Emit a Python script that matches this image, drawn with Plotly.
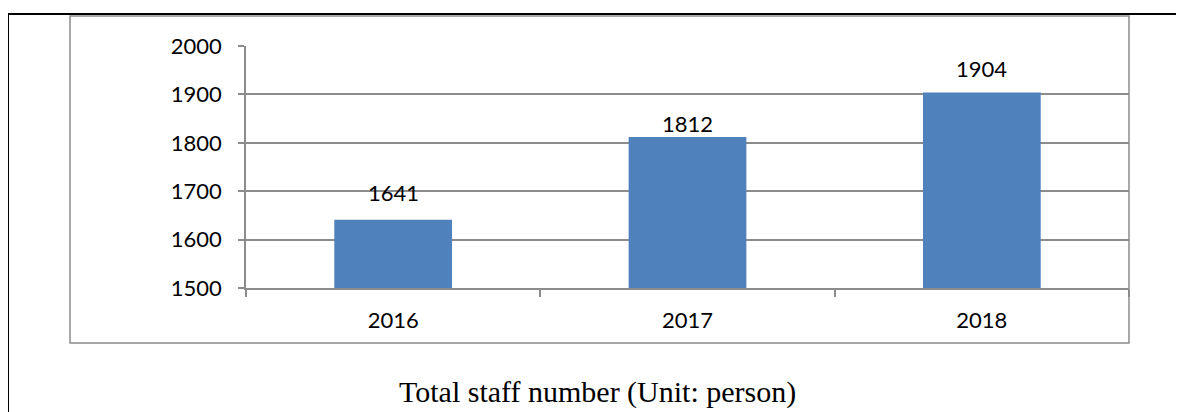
import plotly.graph_objects as go

# ---- data ----
years = ["2016", "2017", "2018"]
staff = [1641, 1812, 1904]
y_ticks = [1500, 1600, 1700, 1800, 1900, 2000]
title_text = "Total staff number (Unit: person)"

# ---- style ----
OFF = 8  # page body margin in the browser
W, H = 1184 - OFF, 412 - OFF
bar_color = "#4f81bd"
grid_color = "#8c8c8c"
tick_font = dict(family="Lato, Carlito, Calibri, sans-serif", size=22, color="#000000")
label_shift = [27, 13, 24]

fig = go.Figure()
fig.add_trace(go.Bar(x=years, y=staff, marker=dict(color=bar_color, line=dict(width=0)),
                     width=0.4, hoverinfo="x+y"))

for i, v in enumerate(staff):
    fig.add_annotation(x=i, y=v, text=str(v), showarrow=False, xref="x", yref="y",
                       yanchor="middle", yshift=label_shift[i], font=tick_font)

# plot area in reference-picture pixels, converted to figure pixels
L, R, T, B = 246 - OFF, 1129 - OFF, 46 - OFF, 288 - OFF
fig.update_layout(
    width=W, height=H,
    margin=dict(l=L, r=W - R, t=T, b=H - B, pad=0, autoexpand=False),
    paper_bgcolor="white", plot_bgcolor="white",
    showlegend=False,
)
fig.update_yaxes(range=[1500, 2000], tickvals=y_ticks, showgrid=True, gridcolor=grid_color,
                 gridwidth=1.5, showline=True, linecolor=grid_color, linewidth=1.5,
                 ticks="outside", ticklen=6, tickcolor=grid_color, tickwidth=1.5,
                 tickfont=tick_font, zeroline=False, fixedrange=True, automargin=False,
                 ticklabelstandoff=12)
fig.update_xaxes(type="category", range=[-0.5, 2.5], showgrid=False, showline=True,
                 linecolor=grid_color, linewidth=1.5, ticks="outside", ticklen=7,
                 tickcolor=grid_color, tickwidth=1.5, tickson="boundaries",
                 tickfont=tick_font, tickangle=0, fixedrange=True, automargin=False,
                 ticklabelstandoff=12)


def px(xr):
    xp = xr - OFF
    return (xp - L) / (R - L)


def py(yr):
    yp = yr - OFF
    return (H - yp - (H - B)) / (B - T)


shapes = []
# outer black frame (top and left)
shapes.append(dict(type="line", xref="paper", yref="paper", x0=px(8), x1=px(1200),
                   y0=py(14), y1=py(430), line=dict(color="rgba(0,0,0,0)", width=0)))
shapes[0].update(y1=py(14))
shapes[0]["line"] = dict(color="black", width=2)
shapes.append(dict(type="line", xref="paper", yref="paper", x0=px(8), x1=px(8),
                   y0=py(14), y1=py(430), line=dict(color="black", width=2)))
# chart box
shapes.append(dict(type="rect", xref="paper", yref="paper", x0=px(70), x1=px(1129),
                   y0=py(343), y1=py(16), line=dict(color=grid_color, width=1.5),
                   layer="below"))
fig.update_layout(shapes=shapes)

fig.add_annotation(text=title_text, xref="paper", yref="paper", x=px(597), y=py(392),
                   xanchor="center", yanchor="middle", showarrow=False,
                   font=dict(family="Liberation Serif, Times New Roman, serif", size=30,
                             color="#000000"))

fig.write_html("out.html")
